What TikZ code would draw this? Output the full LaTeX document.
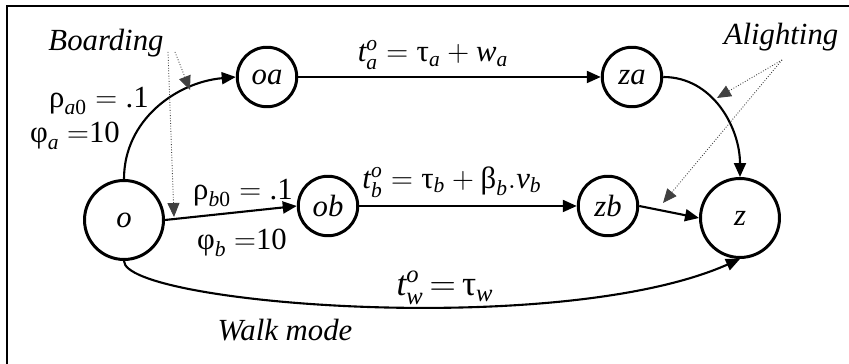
\documentclass[tikz,border=0pt]{standalone}
\usepackage{amsmath}
\usepackage{fontspec}
\setmainfont{Liberation Serif}
\usetikzlibrary{arrows.meta}
\newcommand{\iv}[1]{\textit{#1}}
\newcommand{\gk}[1]{\textup{#1}}

\begin{document}
\begin{tikzpicture}[
      x=0.02cm, y=0.02cm,
      every node/.style={font=\fontsize{17.5}{21}\selectfont},
      stop/.style={draw, circle, line width=1.7pt, inner sep=0pt, minimum size=1.19cm, font=\fontsize{17.5}{21}\selectfont\itshape},
      endstop/.style={stop, minimum size=1.58cm},
      arr/.style={-{Triangle[length=0.28cm, width=0.24cm]}, line width=1.2pt},
      note/.style={-{Triangle[length=0.28cm, width=0.24cm]}, densely dotted, line width=0.5pt, black!75},
      tag/.style={font=\fontsize{17.5}{21}\selectfont\itshape}
  ]
  \clip (0,0) rectangle (849,364);
  \draw[line width=1.2pt] (7,358) rectangle (880,-20);

  % stops
  \node[endstop] (o) at (124,144) {o};
  \node[stop] (oa) at (267,287) {oa};
  \node[stop] (za) at (632,287) {za};
  \node[stop] (ob) at (328,158) {ob};
  \node[stop] (zb) at (608,158) {zb};
  \node[endstop] (z) at (740,146) {z};

  % links
  \draw[arr] (o.north) to[out=90, in=185] (oa.west);
  \draw[arr] (oa) -- (za);
  \draw[arr] (o.east) -- (ob.west);
  \draw[arr] (ob) -- (zb);
  \draw[arr] (za.east) to[out=0, in=90] (z.north);
  \draw[arr] (zb.east) -- (z.west);
  \draw[arr] (o.south) .. controls (124,60) and (560,25) .. (z.south);

  % labels
  \node (rhoa) at (99,263) {$\gk{ρ}_{\iv{a}\gk{0}} = \gk{.1}$};
  \node (phia) at (75,228) {$\gk{φ}_{\iv{a}}\ {=}\gk{10}$};
  \node (rhob) at (243,171) {$\gk{ρ}_{\iv{b}\gk{0}} = \gk{.1}$};
  \node (phib) at (242,121) {$\gk{φ}_{\iv{b}}\ {=}\gk{10}$};
  \node (ta) at (433,309) {$\iv{t}^{\iv{o}}_{\iv{a}} = \gk{τ}_{\iv{a}} + \iv{w}_{\iv{a}}$};
  \node (tb) at (452,182) {$\iv{t}^{\iv{o}}_{\iv{b}} = \gk{τ}_{\iv{b}} + \gk{β}_{\iv{b}}.\iv{v}_{\iv{b}}$};
  \node[font=\fontsize{20}{24}\selectfont] (tw) at (445,76) {$\iv{t}^{\iv{o}}_{\iv{w}} \mskip3mu{=}\mskip3mu \gk{τ}_{\iv{w}}$};

  \node[tag] (board) at (106,321) {Boarding};
  \node[tag] (alight) at (781,327) {Alighting};
  \node[tag] (walk) at (285,34) {Walk mode};

  % pointers
  \coordinate (bA) at (168,312);
  \coordinate (bB) at (175,312);
  \coordinate (bAt) at (174,147);
  \coordinate (bBt) at (190,274);
  \coordinate (aA) at (782,304);
  \coordinate (aAt) at (717,266);
  \coordinate (aBt) at (663,161);
  \draw[note] (bA) -- (bAt);
  \draw[note] (bB) -- (bBt);
  \draw[note] (aA) -- (aAt);
  \draw[note] (aA) -- (aBt);
\end{tikzpicture}
\end{document}
